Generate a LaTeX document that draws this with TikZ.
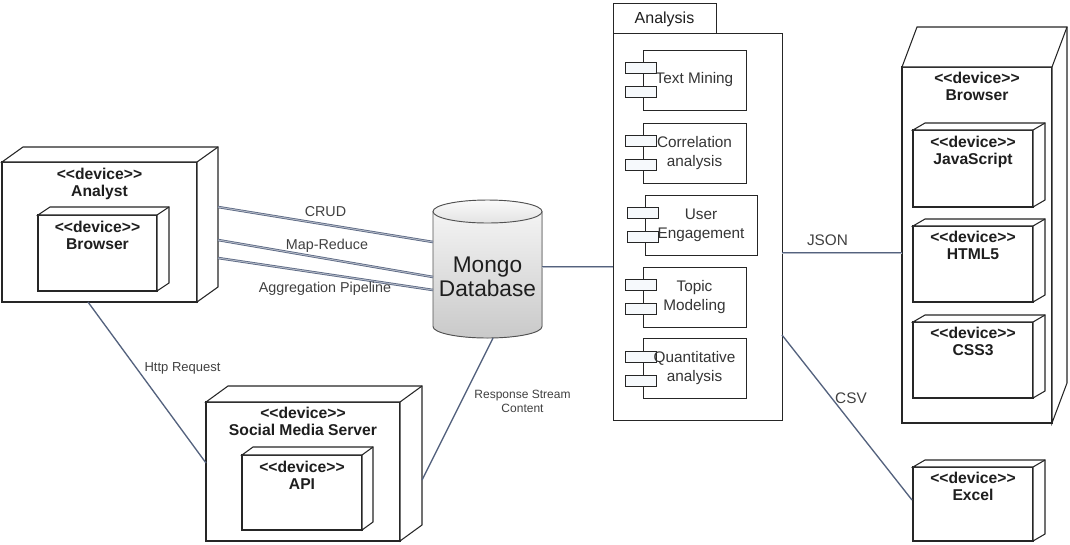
\documentclass[tikz,border=0pt]{standalone}
\usepackage{fontspec}
\setmainfont{Liberation Sans}
\usetikzlibrary{calc}
\definecolor{linkc}{RGB}{84,98,126}
\definecolor{edgec}{RGB}{38,38,38}
\definecolor{txtc}{RGB}{30,30,30}
\definecolor{portc}{RGB}{246,249,252}
\newcommand\umlst[1]{<\kern0pt<#1>\kern0pt>}
\newcommand\depthfaces[3]{%
  \draw[devline, fill=white] (#1.north west) -- ++(#2,-#3) -- ([shift={(#2,-#3)}]#1.north east)
     -- ([shift={(#2,-#3)}]#1.south east) -- (#1.south east) -- (#1.north east) -- cycle;
  \draw[devline] (#1.north east) -- ++(#2,-#3);
}
\begin{document}
\begin{tikzpicture}[x=0.75pt,y=-0.75pt,
  devline/.style={draw=edgec, line width=0.8pt},
  devbox/.style 2 args={devline, fill=white, minimum width=#1*0.75pt, minimum height=#2*0.75pt, inner sep=0pt, outer sep=0pt},
  devtext/.style={font=\fontsize{11.75}{12.75}\selectfont\bfseries, align=center, inner sep=0pt, anchor=north, text=txtc},
  compbox/.style 2 args={draw=edgec, line width=0.7pt, fill=white, minimum width=#1*0.75pt, minimum height=#2*0.75pt, inner sep=0pt, outer sep=0pt},
  port/.style={draw=edgec, line width=0.7pt, fill=portc, minimum width=31*0.75pt, minimum height=11*0.75pt, inner sep=0pt, outer sep=0pt},
  comptext/.style={font=\fontsize{11.5}{14.25}\selectfont, align=center, inner sep=0pt, text=txtc!90},
  lbl/.style={font=\fontsize{10.75}{12}\selectfont, inner sep=0pt, anchor=base, text=txtc!85},
  dbl/.style={draw=linkc, line width=0.55pt, double=linkc!45, double distance=0.75pt},
  sgl/.style={draw=linkc, line width=1pt},
]
\useasboundingbox (0,0) rectangle (1070,544);

% ---------- Analyst ----------
\node[devbox={195}{140}] (analyst) at (99.5,232) {};
\depthfaces{analyst}{21}{15}
\node[devtext] (analystT) at ($(analyst.north)+(0,6)$) {\umlst{device}\\Analyst};
\node[devbox={119}{76}] (abrowser) at (97.5,253) {};
\depthfaces{abrowser}{12}{8}
\node[devtext] (abrowserT) at ($(abrowser.north)+(0,6)$) {\umlst{device}\\Browser};

% ---------- Social Media Server ----------
\node[devbox={194}{139}] (sms) at (303,471.5) {};
\depthfaces{sms}{22}{16}
\node[devtext] (smsT) at ($(sms.north)+(0,5)$) {\umlst{device}\\Social Media Server};
\node[devbox={120}{75}] (api) at (302,492.5) {};
\depthfaces{api}{11}{8}
\node[devtext] (apiT) at ($(api.north)+(0,6)$) {\umlst{device}\\API};

% ---------- Mongo Database ----------
\fill[top color=gray!6, bottom color=gray!42] (433,211.5) -- (433,326.5)
  arc[start angle=180, end angle=0, x radius=54.5, y radius=11.5] -- (542,211.5)
  arc[start angle=0, end angle=-180, x radius=54.5, y radius=11.5] -- cycle;
\draw[edgec!80, line width=0.7pt] (433,211.5) -- (433,326.5)
  arc[start angle=180, end angle=0, x radius=54.5, y radius=11.5] -- (542,211.5);
\draw[edgec!80, line width=0.7pt, top color=gray!4, bottom color=gray!22] (487.5,211.5) ellipse[x radius=54.5, y radius=11.5];
\node[minimum width=109*0.75pt, minimum height=138*0.75pt, inner sep=0pt, outer sep=0pt] (mongo) at (487.5,269) {};
\node[font=\fontsize{17}{18}\selectfont, align=center, inner sep=0pt, text=txtc] (mongoT) at (487.5,277) {Mongo\\Database};

% ---------- Analysis package ----------
\node[compbox={103}{30}] (atab) at (664.5,18) {};
\node[font=\fontsize{12}{13}\selectfont, inner sep=0pt, text=txtc] (atabT) at (664.5,19) {Analysis};
\node[compbox={169}{387}] (abody) at (697.5,226.5) {};

\foreach \n/\cx/\cy/\w/\t in {tm/694.5/80/103/{Text Mining},
                             corr/694.5/153/103/{Correlation\\analysis},
                             ue/701/225/112/{User\\Engagement},
                             topic/694.5/297/103/{Topic\\Modeling},
                             quant/694.5/368.5/103/{Quantitative\\analysis}}{
  \node[compbox={\w}{60}] (\n) at (\cx,\cy) {};
  \node[port] (\n-p1) at ($(\n.west)+(-2.5,-12)$) {};
  \node[port] (\n-p2) at ($(\n.west)+(-2.5,12)$) {};
  \node[comptext] (\n-t) at (\n.center) {\t};
}

% ---------- Right Browser ----------
\node[devbox={150}{356}] (rbrowser) at (977,245) {};
\depthfaces{rbrowser}{15}{40}
\node[devtext] (rbrowserT) at ($(rbrowser.north)+(0,5)$) {\umlst{device}\\Browser};
\node[devbox={120}{77}] (js) at (973,168.5) {};
\depthfaces{js}{12}{7}
\node[devtext] (jsT) at ($(js.north)+(0,6)$) {\umlst{device}\\JavaScript};
\node[devbox={120}{76}] (html) at (973,264) {};
\depthfaces{html}{12}{7}
\node[devtext] (htmlT) at ($(html.north)+(0,5)$) {\umlst{device}\\HTML5};
\node[devbox={120}{76}] (css) at (973,360) {};
\depthfaces{css}{12}{7}
\node[devtext] (cssT) at ($(css.north)+(0,5)$) {\umlst{device}\\CSS3};

% ---------- Excel ----------
\node[devbox={120}{74}] (excel) at (973,504) {};
\depthfaces{excel}{12}{7}
\node[devtext] (excelT) at ($(excel.north)+(0,5)$) {\umlst{device}\\Excel};

% ---------- Connectors ----------
\draw[dbl] ($(analyst.north east)+(21,45)$) -- ($(mongo.west)+(0,-27)$);
\draw[dbl] ($(analyst.north east)+(21,78)$) -- ($(mongo.west)+(0,8)$);
\draw[dbl] ($(analyst.north east)+(21,96)$) -- ($(mongo.west)+(0,21)$);
\coordinate (m2a) at ($(mongo.east)+(0,-2)$);
\draw[dbl] (m2a) -- (m2a -| abody.west);
\coordinate (a2b) at ($(abody.east)+(0,26.5)$);
\draw[dbl] (a2b) -- (a2b -| rbrowser.west);
\draw[sgl] ($(abody.east)+(0,108.5)$) -- ($(excel.west)+(-1,-4)$);
\draw[sgl] ($(analyst.south)+(-11.5,0)$) -- ($(sms.west)+(0,-8.5)$);
\draw[sgl] ($(mongo.south)+(5.5,0)$) -- ($(sms.east)+(22,8.5)$);

% ---------- Connector labels ----------
\node[lbl] (lcrud) at (325.5,216) {CRUD};
\node[lbl] (lmap) at (327,249) {Map-Reduce};
\node[lbl] (lagg) at (325,292) {Aggregation Pipeline};
\node[lbl, font=\fontsize{9.75}{11}\selectfont] (lhttp) at (182.5,371) {Http Request};
\node[font=\fontsize{9}{10.5}\selectfont, align=center, inner sep=0pt, text=txtc!85] (lresp) at (522.5,401) {Response Stream\\Content};
\node[lbl, font=\fontsize{11.5}{12}\selectfont] (ljson) at (827.5,245) {JSON};
\node[lbl, font=\fontsize{11.5}{12}\selectfont] (lcsv) at (851,403) {CSV};
\end{tikzpicture}
\end{document}
